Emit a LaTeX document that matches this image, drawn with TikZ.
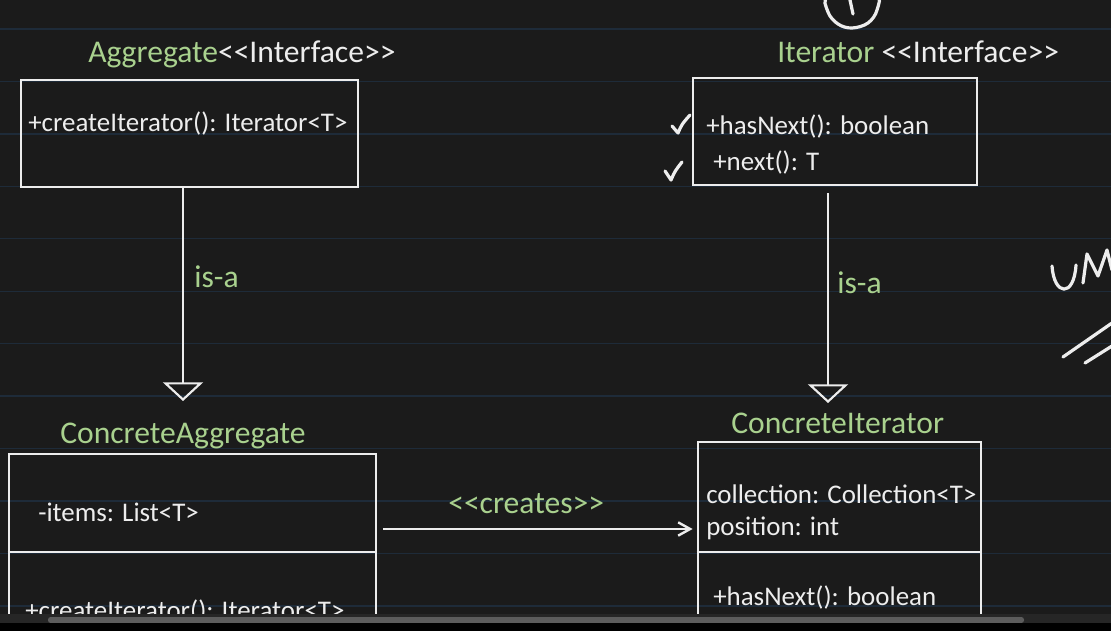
\documentclass[tikz,border=0pt]{standalone}
\usepackage{fontspec}
\usepackage{xcolor}
\usetikzlibrary{arrows.meta, fit, calc}

\newfontfamily\boardfont{Carlito}

\definecolor{board}{HTML}{1B1B1B}
\definecolor{ruling}{HTML}{1E2B39}
\definecolor{chalk}{HTML}{EDEDED}
\definecolor{leaf}{HTML}{A9D18E}
\definecolor{thumb}{HTML}{5C5C5C}
\definecolor{track}{HTML}{262626}

\tikzset{
  classbox/.style={draw=chalk, line width=2.1pt, inner sep=0pt},
  member/.style={text=chalk, inner sep=0pt, anchor=base west, font=\boardfont\fontsize{20.2}{24}\selectfont},
  caption/.style={text=chalk, inner sep=0pt, anchor=base west, font=\boardfont\fontsize{23.7}{28}\selectfont},
  isa/.style={draw=chalk, line width=1.6pt, -{Triangle[open, length=14pt, width=30pt]}},
  creates/.style={draw=chalk, line width=1.8pt, -{Straight Barb[length=9pt, width=10pt]}},
  ink/.style={draw=chalk, line width=2.4pt, line cap=round, line join=round}
}

\begin{document}
\begin{tikzpicture}[x=0.75pt, y=-0.75pt]
\useasboundingbox (0,0) rectangle (1111,631);
\fill[board] (0,0) rectangle (1111,631);

\begin{scope}
\clip (0,0) rectangle (1111,614);
% notebook lines
\foreach \k in {0,...,11}
  \draw[ruling, line width=1pt] (0,29+52.45*\k) -- (1111,29+52.45*\k);

% Aggregate
\node[caption] (aggName) at (88,63) {\textcolor{leaf}{Aggregate}<<Interface>>};
\node[classbox, fit={(21,80) (358,187)}] (agg) {};
\node[member] (aggOp) at (28,132) {+createIterator(): Iterator<T>};

% Iterator
\node[caption] (itName) at (777,63) {\textcolor{leaf}{Iterator} <<Interface>>};
\node[classbox, fit={(693,78) (977,185)}] (it) {};
\node[member] (itHas) at (706,135) {+hasNext(): boolean};
\node[member] (itNext) at (713,171) {+next(): T};

% ConcreteAggregate
\node[caption, text=leaf] (caggName) at (60,443) {ConcreteAggregate};
\node[classbox, fit={(9,454) (376,670)}] (cagg) {};
\draw[chalk, line width=2.1pt] (cagg.west |- 0,552) -- (cagg.east |- 0,552);
\node[member] (caggItems) at (38,521) {-items: List<T>};
\node[member] (caggOp) at (25,619) {+createIterator(): Iterator<T>};

% ConcreteIterator
\node[caption, text=leaf] (citName) at (731,433) {ConcreteIterator};
\node[classbox, fit={(698,442) (981,670)}] (cit) {};
\draw[chalk, line width=2.1pt] (cit.west |- 0,552) -- (cit.east |- 0,552);
\node[member] (citColl) at (706,503) {collection: Collection<T>};
\node[member] (citPos) at (706,535) {position: int};
\node[member] (citHas) at (713,605) {+hasNext(): boolean};

% is-a arrows
\coordinate (aggTip) at (183,401);
\coordinate (itTip) at (828,403);
\draw[isa] (agg.south -| aggTip) -- (aggTip);
\draw[isa] ([yshift=-5pt]it.south -| itTip) -- (itTip);
\node[caption, text=leaf] (isaLeft) at (194,287) {is-a};
\node[caption, text=leaf] (isaRight) at (837,293) {is-a};

% creates
\draw[creates] ([xshift=4.5pt]cagg.east |- 0,529) -- ([xshift=-3pt]cit.west |- 0,529);
\node[caption, text=leaf] (createsLbl) at (448,513) {<<creates>>};

% ticks
\draw[ink] (672,126) .. controls (675,129) .. (678,133) .. controls (682,124) .. (690,115);
\draw[ink] (665,171) .. controls (668,175) .. (671,180) .. controls (675,171) .. (682,162);

% pen marks
\draw[ink] plot[smooth cycle, tension=0.6] coordinates {(829,-4) (828,12) (838,24) (852,28) (868,23) (877,10) (875,-6)};
\draw[ink] (850,0) -- (853,14);
\draw[ink] (1052,266) .. controls (1054,296) and (1074,298) .. (1076,265);
\draw[ink] (1083,283) -- (1087,254) -- (1098,276) -- (1107,250) -- (1112,270);
\draw[ink] (1063,357) -- (1112,323);
\draw[ink] (1085,363) -- (1112,346);
\end{scope}

% scrollbar
\fill[track] (0,614) rectangle (1111,623);
\fill[thumb, rounded corners=2pt] (48,617) rectangle (1024,623);
\fill[black] (0,623) rectangle (1111,631);
\end{tikzpicture}
\end{document}
